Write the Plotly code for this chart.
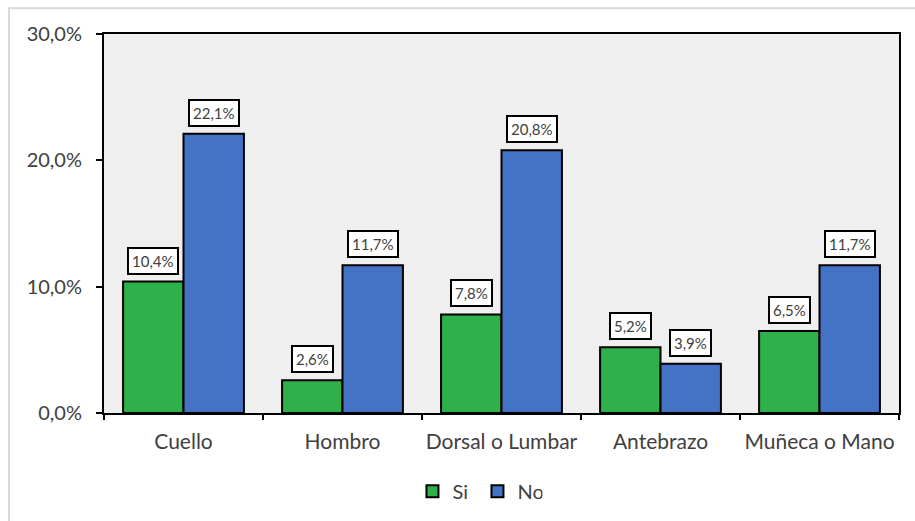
import plotly.graph_objects as go

categorias = ["Cuello", "Hombro", "Dorsal o Lumbar", "Antebrazo", "Muñeca o Mano"]
si = [10.4, 2.6, 7.8, 5.2, 6.5]
no = [22.1, 11.7, 20.8, 3.9, 11.7]
y_ticks = [0, 10, 20, 30]

VERDE = "#2EB04A"
AZUL = "#4472C4"
TEXTO = "#404040"
FUENTE = "Lato, 'Open Sans', sans-serif"


def etiqueta(v):
    return f"{v:.1f}%".replace(".", ",")


fig = go.Figure()
fig.add_trace(go.Bar(x=categorias, y=si, name="Si", marker=dict(color=VERDE, line=dict(color="black", width=2))))
fig.add_trace(go.Bar(x=categorias, y=no, name="No", marker=dict(color=AZUL, line=dict(color="black", width=2))))

# Etiquetas de valor en recuadros sobre cada barra
anns = []
for serie, shift in ((si, -30.2), (no, 30.2)):
    for cat, v in zip(categorias, serie):
        anns.append(dict(
            x=cat, y=v, xref="x", yref="y", text=etiqueta(v), showarrow=False,
            xshift=shift, yanchor="bottom", yshift=7,
            font=dict(family=FUENTE, size=15, color=TEXTO),
            bgcolor="white", bordercolor="black", borderwidth=2, borderpad=3,
        ))

fig.update_layout(
    width=915, height=521,
    margin=dict(l=104, r=16, t=34, b=107),
    paper_bgcolor="white", plot_bgcolor="#EFEFEF",
    barmode="group", bargap=0.24, bargroupgap=0,
    font=dict(family=FUENTE, size=21, color=TEXTO),
    showlegend=True,
    legend=dict(orientation="h", x=0.388, xanchor="left", y=-0.203, yanchor="middle",
                font=dict(family=FUENTE, size=20, color=TEXTO), itemwidth=30,
                entrywidth=20, entrywidthmode="pixels",
                bgcolor="rgba(0,0,0,0)", traceorder="normal"),
    annotations=anns,
    shapes=[dict(type="rect", xref="paper", yref="paper", x0=-0.1195, x1=1.06, y0=-0.4, y1=1.068,
                 line=dict(color="#D9D9D9", width=2), layer="below")],
)
fig.update_xaxes(
    showline=True, linecolor="black", linewidth=2, mirror=True,
    ticks="outside", tickson="boundaries", ticklen=5, tickwidth=2, tickcolor="black",
    showgrid=False, ticklabelstandoff=9, tickangle=0, automargin=False,
    tickfont=dict(family=FUENTE, size=21, color=TEXTO),
)
fig.update_yaxes(
    range=[0, 30], tickvals=y_ticks, ticktext=[etiqueta(t) for t in y_ticks],
    showline=True, linecolor="black", linewidth=2, mirror=True,
    ticks="outside", ticklen=6, tickwidth=2, tickcolor="black",
    showgrid=False, zeroline=False, ticklabelstandoff=10, automargin=False,
    tickfont=dict(family=FUENTE, size=20, color=TEXTO),
)

fig.write_html("out.html")
